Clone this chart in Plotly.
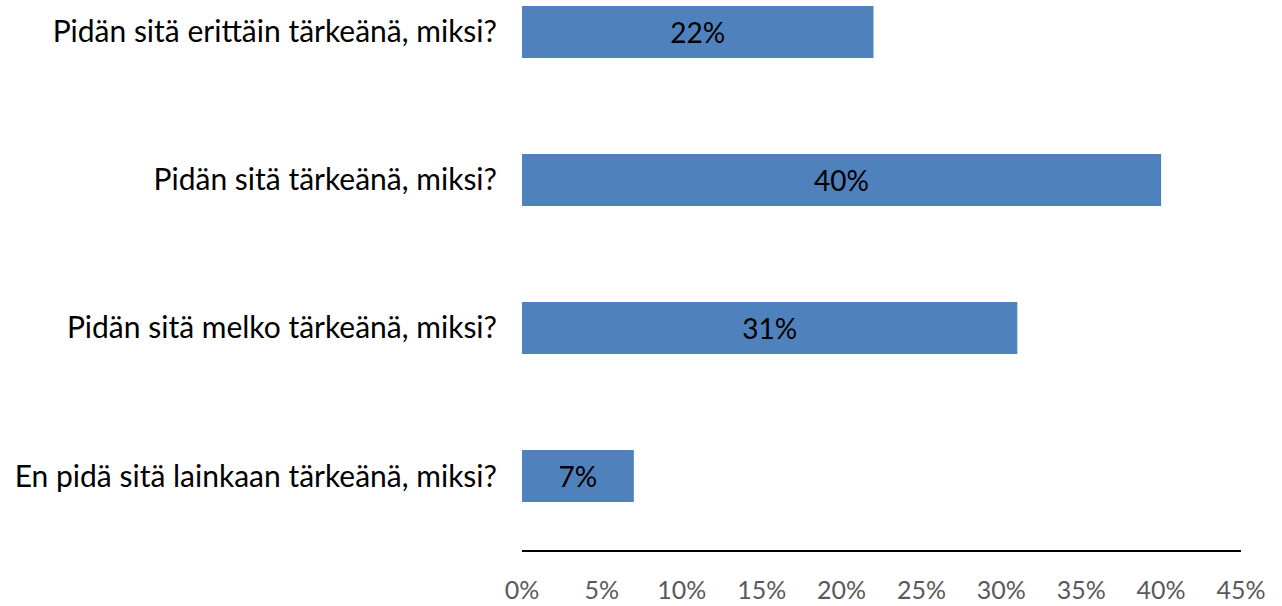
import plotly.graph_objects as go

# Survey answers, listed top to bottom
categories = [
    "Pidän sitä erittäin tärkeänä, miksi?",
    "Pidän sitä tärkeänä, miksi?",
    "Pidän sitä melko tärkeänä, miksi?",
    "En pidä sitä lainkaan tärkeänä, miksi?",
]
shares = [22, 40, 31, 7]
x_ticks = [0, 5, 10, 15, 20, 25, 30, 35, 40, 45]
x_tick_labels = [f"{t}%" for t in x_ticks]

positions = list(range(len(categories)))
FONT = "Lato, Carlito, Calibri, sans-serif"

fig = go.Figure(
    go.Bar(
        x=shares,
        y=positions,
        orientation="h",
        width=0.351,
        marker=dict(color="#4F81BD", line=dict(width=0)),
        text=[f"{v}%" for v in shares],
        textposition="inside",
        insidetextanchor="middle",
        textfont=dict(family=FONT, size=28, color="#000000"),
        hoverinfo="skip",
    )
)

fig.update_layout(
    width=1282,
    height=606,
    margin=dict(l=522, r=41, t=0, b=56),
    paper_bgcolor="white",
    plot_bgcolor="white",
    showlegend=False,
    font=dict(family=FONT, size=28, color="#000000"),
    uniformtext=dict(minsize=28, mode="show"),
)

fig.update_xaxes(
    range=[0, 45],
    tickvals=x_ticks,
    ticktext=x_tick_labels,
    showgrid=False,
    zeroline=False,
    showline=True,
    linecolor="#000000",
    linewidth=2,
    ticks="outside",
    ticklen=17,
    tickcolor="rgba(0,0,0,0)",
    tickfont=dict(family=FONT, size=25, color="#595959"),
    automargin=False,
    fixedrange=True,
)

fig.update_yaxes(
    range=[3.5, -0.216],
    tickvals=positions,
    ticktext=categories,
    showgrid=False,
    zeroline=False,
    showline=False,
    ticks="outside",
    ticklen=18,
    tickcolor="rgba(0,0,0,0)",
    tickfont=dict(family=FONT, size=30, color="#000000"),
    automargin=False,
    fixedrange=True,
)

fig.write_html("out.html", config={"displayModeBar": False})
